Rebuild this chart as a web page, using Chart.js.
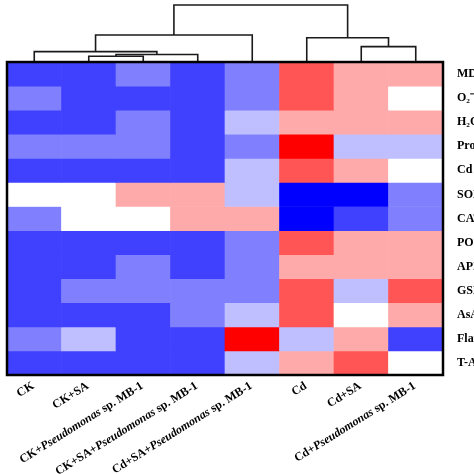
<!DOCTYPE html>
<html><head><meta charset="utf-8">
<script src="https://cdn.jsdelivr.net/npm/chart.js@4.4.1/dist/chart.umd.min.js"></script>
<style>html,body{margin:0;padding:0;background:#fff;overflow:hidden;}</style>
</head><body>
<canvas id="c" width="474" height="474"></canvas>
<script>
// ---- data ----
const groups = ['CK', 'CK+SA', 'CK+Pseudomonas sp. MB-1', 'CK+SA+Pseudomonas sp. MB-1',
  'Cd+SA+Pseudomonas sp. MB-1', 'Cd', 'Cd+SA', 'Cd+Pseudomonas sp. MB-1'];
const indices = ['MDA', 'O\u2082\u207B', 'H\u2082O\u2082', 'Pro', 'Cd', 'SOD', 'CAT', 'POD', 'APX', 'GSH', 'AsA', 'Flav', 'T-AOC'];
// scaled levels (row order as in heatmap, one value per group)
const MDA  = [-3, -3, -2, -3, -2,  2,  1,  1];
const O2   = [-2, -3, -3, -3, -2,  2,  1,  0];
const H2O2 = [-3, -3, -2, -3, -1,  1,  1,  1];
const Pro  = [-2, -2, -2, -3, -2,  3, -1, -1];
const CdC  = [-3, -3, -3, -3, -1,  2,  1,  0];
const SOD  = [ 0,  0,  1,  1, -1, -4, -4, -2];
const CAT  = [-2,  0,  0,  1,  1, -4, -3, -2];
const POD  = [-3, -3, -3, -3, -2,  2,  1,  1];
const APX  = [-3, -3, -2, -3, -2,  1,  1,  1];
const GSH  = [-3, -2, -2, -2, -2,  2, -1,  2];
const AsA  = [-3, -3, -3, -2, -1,  2,  0,  1];
const Flav = [-2, -1, -3, -3,  3, -1,  1, -3];
const TAOC = [-3, -3, -3, -3, -1,  1,  2,  0];
const rows = [MDA, O2, H2O2, Pro, CdC, SOD, CAT, POD, APX, GSH, AsA, Flav, TAOC];
// column dendrogram: [left node, right node, merge height]; nodes 0-7 = leaves, 8+ = earlier merges
const dendroMerges = [
  [1, 2, 13.24],
  [8, 3, 13.31],
  [0, 9, 13.43],
  [10, 4, 14.12],
  [6, 7, 13.64],
  [5, 12, 14.01],
  [11, 13, 15.37]
];

// ---- styles ----
const levelColors = {'-4':'#0000ff','-3':'#4040ff','-2':'#8080ff','-1':'#bfbfff','0':'#ffffff','1':'#ffaaaa','2':'#ff5555','3':'#ff0000'};
const nRows = rows.length;
const yMax = 15.41;

const datasets = rows.map((vals, r) => ({
  type: 'bar',
  label: indices[r],
  xAxisID: 'x', yAxisID: 'y',
  data: vals.map(() => [nRows - 1 - r, nRows - r]),
  backgroundColor: vals.map(v => levelColors[String(v)]),
  borderWidth: 0,
  grouped: false,
  barPercentage: 1,
  categoryPercentage: 1
}));

// dendrogram
const nodeX = groups.map((g, i) => i);
const nodeH = groups.map(() => nRows);
dendroMerges.forEach(([a, b, h]) => {
  const pts = [
    {x: nodeX[a], y: nodeH[a]}, {x: nodeX[a], y: h},
    {x: nodeX[b], y: h}, {x: nodeX[b], y: nodeH[b]}
  ];
  datasets.push({
    type: 'line', xAxisID: 'x2', yAxisID: 'y',
    data: pts, borderColor: '#1a1a1a', borderWidth: 1.6,
    pointRadius: 0, tension: 0, fill: false, clip: false
  });
  nodeX.push((nodeX[a] + nodeX[b]) / 2);
  nodeH.push(h);
});

const framePlugin = {
  id: 'frameAndLabels',
  afterDatasetsDraw(chart) {
    const ctx = chart.ctx;
    const xs = chart.scales.x2, ys = chart.scales.y;
    const l = xs.getPixelForValue(-0.5), r = xs.getPixelForValue(groups.length - 0.5);
    const t = ys.getPixelForValue(nRows), b = ys.getPixelForValue(0);
    ctx.save();
    ctx.strokeStyle = '#000';
    ctx.lineWidth = 2.5;
    ctx.strokeRect(l, t, r - l, b - t);
    // rotated x labels with italic genus name
    const fs = 12;
    const normal = 'bold ' + fs + 'px "Liberation Serif", "Times New Roman", serif';
    const ital = 'italic bold ' + fs + 'px "Liberation Serif", "Times New Roman", serif';
    groups.forEach((g, i) => {
      const parts = [];
      const k = g.indexOf('Pseudomonas');
      if (k >= 0) {
        parts.push([g.slice(0, k), normal]);
        parts.push(['Pseudomonas', ital]);
        parts.push([g.slice(k + 11), normal]);
      } else parts.push([g, normal]);
      let w = 0;
      parts.forEach(p => { ctx.font = p[1]; w += ctx.measureText(p[0]).width; });
      const px = chart.scales.x.getPixelForValue(i) - 1;
      const py = b + 10;
      ctx.save();
      ctx.translate(px, py);
      ctx.rotate(-32 * Math.PI / 180);
      ctx.fillStyle = '#000';
      ctx.textBaseline = 'middle';
      ctx.textAlign = 'left';
      let cx = -w;
      parts.forEach(p => { ctx.font = p[1]; ctx.fillText(p[0], cx, 0); cx += ctx.measureText(p[0]).width; });
      ctx.restore();
    });
    ctx.restore();
  }
};

new Chart(document.getElementById('c'), {
  data: { labels: groups, datasets },
  options: {
    responsive: false,
    animation: false,
    events: [],
    layout: { padding: { left: 7, top: 4, bottom: 99, right: 0 } },
    plugins: { legend: { display: false }, tooltip: { enabled: false } },
    scales: {
      x: { type: 'category', display: false, offset: true, grid: { display: false } },
      x2: { type: 'linear', display: false, min: -0.5, max: groups.length - 0.5 },
      y: { type: 'linear', display: false, min: 0, max: yMax },
      yr: {
        type: 'linear', position: 'right', min: 0, max: yMax,
        grid: { display: false, drawTicks: false }, border: { display: false },
        afterBuildTicks: (s) => { s.ticks = indices.map((n, i) => ({ value: nRows - 0.5 - i })); },
        afterFit: (s) => { s.width = 31; s.paddingTop = 0; s.paddingBottom = 0; },
        ticks: {
          autoSkip: false, padding: 14, crossAlign: 'near', color: '#000',
          font: { family: '"Liberation Serif", "Times New Roman", serif', size: 12, weight: 'bold' },
          callback: (v, i) => indices[i]
        }
      }
    }
  },
  plugins: [framePlugin]
});
</script>
</body></html>
